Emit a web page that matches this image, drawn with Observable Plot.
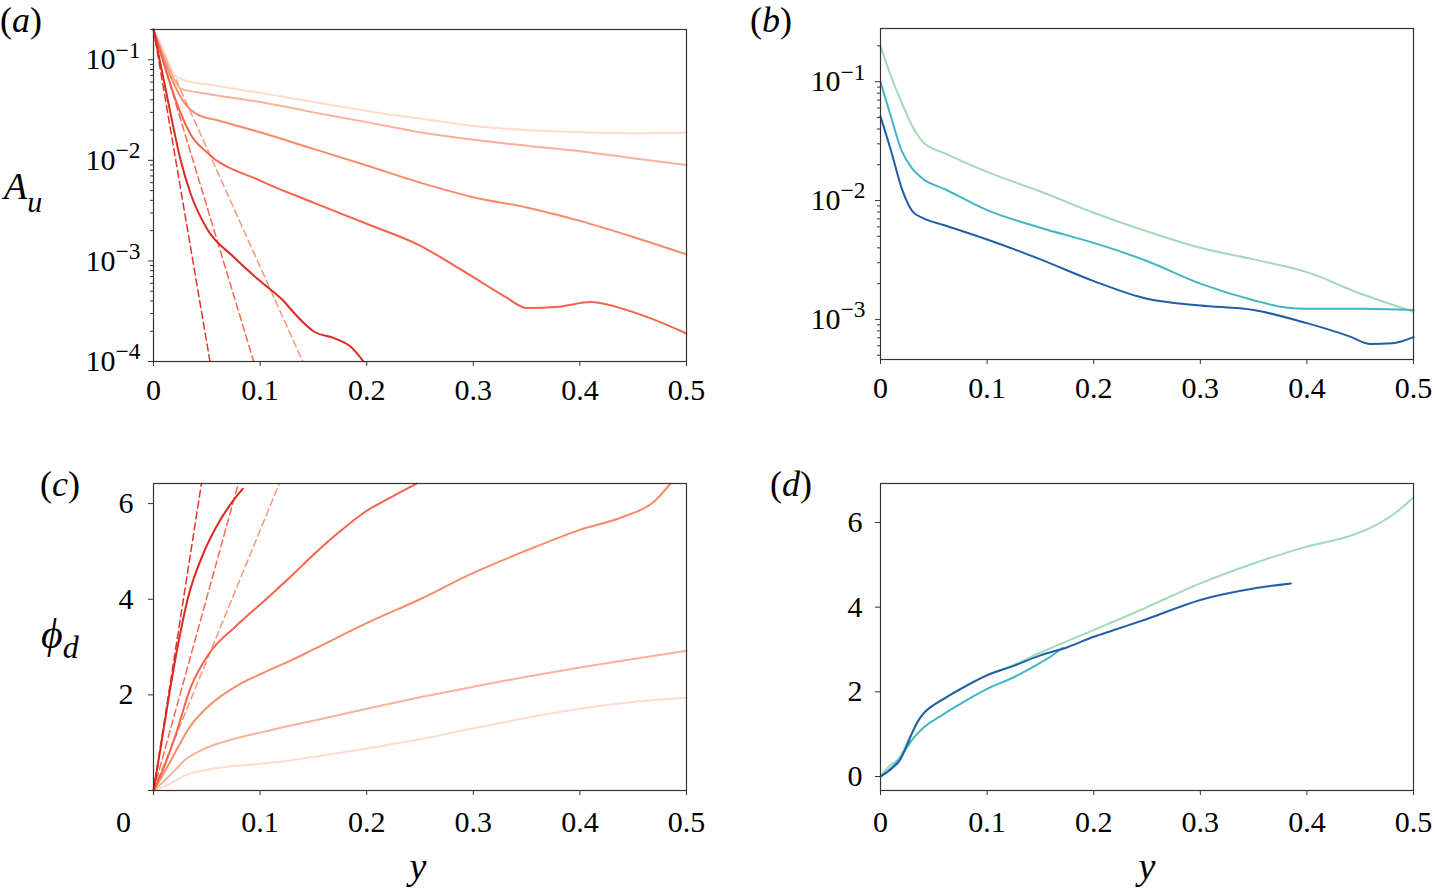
<!DOCTYPE html>
<html>
<head>
<meta charset="utf-8">
<script src="https://cdn.jsdelivr.net/npm/d3@7"></script>
<script src="https://cdn.jsdelivr.net/npm/@observablehq/plot@0.6"></script>
<style>
  body { margin: 0; background: #fff; }
  #fig { position: relative; width: 1436px; height: 895px; font-family: "Liberation Serif", "Times New Roman", serif; }
  #fig > svg { position: absolute; }
</style>
</head>
<body>
<div id="fig"></div>
<script>
// shared ticks
const xTicks = [0, 0.1, 0.2, 0.3, 0.4, 0.5]
const aTicks = [1e-4, 1e-3, 1e-2, 1e-1]
const bTicks = [1e-3, 1e-2, 1e-1]
const phiTicks = [0, 2, 4, 6]

// (a) amplitude, red family, light -> dark
const au1 = [[0,0.2],[0.01,0.12],[0.02,0.07],[0.03,0.062],[0.05,0.057],[0.1,0.047],[0.15,0.038],[0.2,0.031],[0.25,0.026],[0.3,0.022],[0.35,0.020],[0.4,0.019],[0.45,0.0186],[0.5,0.0188]]
const au2 = [[0,0.2],[0.01,0.11],[0.02,0.062],[0.025,0.052],[0.05,0.046],[0.1,0.038],[0.15,0.030],[0.2,0.024],[0.25,0.019],[0.3,0.016],[0.35,0.014],[0.4,0.0123],[0.45,0.0105],[0.5,0.009]]
const au3 = [[0,0.2],[0.01,0.1],[0.02,0.055],[0.03,0.036],[0.04,0.029],[0.06,0.025],[0.1,0.019],[0.15,0.013],[0.2,0.0089],[0.25,0.006],[0.3,0.0043],[0.35,0.0034],[0.4,0.0025],[0.45,0.00173],[0.5,0.00116]]
const au4 = [[0,0.2],[0.01,0.09],[0.02,0.042],[0.035,0.018],[0.05,0.012],[0.1,0.0063],[0.15,0.0038],[0.2,0.00234],[0.25,0.00142],[0.28,0.00093],[0.3,0.00069],[0.33,0.00044],[0.35,0.00034],[0.38,0.00035],[0.41,0.00039],[0.45,0.00031],[0.5,0.00019]]
const au5 = [[0,0.2],[0.01,0.06],[0.015,0.033],[0.025,0.0105],[0.035,0.0046],[0.05,0.0021],[0.075,0.0011],[0.1,0.00063],[0.12,0.00042],[0.135,0.00028],[0.15,0.0002],[0.17,0.00017],[0.185,0.00014],[0.197,0.0001]]
const auDash1 = [[0,0.2],[0.053,0.0001]]
const auDash2 = [[0,0.2],[0.094,0.0001]]
const auDash3 = [[0,0.2],[0.14,0.0001]]

// (b) amplitude, green/teal/blue
const buGreen = [[0,0.2],[0.01,0.11],[0.02,0.066],[0.03,0.042],[0.04,0.031],[0.06,0.025],[0.1,0.0174],[0.15,0.0119],[0.2,0.0079],[0.25,0.0055],[0.3,0.004],[0.35,0.0032],[0.4,0.0025],[0.45,0.00165],[0.5,0.00116]]
const buTeal = [[0,0.1],[0.01,0.05],[0.02,0.026],[0.03,0.0185],[0.04,0.0152],[0.06,0.0125],[0.1,0.0083],[0.15,0.0059],[0.2,0.0044],[0.25,0.0031],[0.3,0.002],[0.35,0.00145],[0.38,0.00126],[0.4,0.00123],[0.45,0.00123],[0.5,0.0012]]
const buBlue = [[0,0.051],[0.01,0.026],[0.02,0.0126],[0.03,0.0081],[0.04,0.0071],[0.06,0.0062],[0.1,0.0047],[0.15,0.0032],[0.2,0.0021],[0.25,0.00149],[0.3,0.00131],[0.35,0.0012],[0.4,0.00093],[0.44,0.00072],[0.46,0.00062],[0.48,0.00063],[0.5,0.00071]]

// (c) phase, red family
const pd1 = [[0,0],[0.01,0.08],[0.02,0.2],[0.029,0.31],[0.054,0.45],[0.1,0.56],[0.129,0.63],[0.15,0.7],[0.2,0.88],[0.25,1.07],[0.3,1.3],[0.35,1.52],[0.4,1.71],[0.45,1.85],[0.5,1.94]]
const pd2 = [[0,0],[0.01,0.2],[0.02,0.42],[0.029,0.63],[0.0445,0.84],[0.076,1.08],[0.1,1.21],[0.129,1.36],[0.15,1.46],[0.2,1.71],[0.25,1.95],[0.3,2.17],[0.35,2.38],[0.4,2.57],[0.45,2.75],[0.5,2.92]]
const pd3 = [[0,0],[0.008,0.3],[0.0163,0.63],[0.035,1.36],[0.054,1.81],[0.079,2.2],[0.104,2.47],[0.129,2.72],[0.15,2.95],[0.2,3.5],[0.25,4.0],[0.3,4.55],[0.35,5.02],[0.4,5.45],[0.44,5.72],[0.47,6.05],[0.485,6.42]]
const pd4 = [[0,0],[0.01,0.5],[0.021,1.18],[0.035,2.16],[0.052,2.86],[0.076,3.41],[0.1056,4.0],[0.129,4.48],[0.15,4.93],[0.175,5.42],[0.2,5.85],[0.22,6.1],[0.247,6.42]]
const pd5 = [[0,0],[0.0075,1.0],[0.0147,2.0],[0.0226,3.0],[0.032,4.0],[0.0476,5.0],[0.0586,5.5],[0.0727,6.0],[0.0837,6.31]]
const pdDash1 = [[0,0],[0.045,6.42]]
const pdDash2 = [[0,0],[0.0796,6.42]]
const pdDash3 = [[0,0],[0.118,6.42]]

// (d) phase, green/teal/blue
const pdGreen = [[0,0],[0.007,0.22],[0.018,0.45],[0.026,0.85],[0.03,1.05],[0.035,1.3],[0.04,1.48],[0.045,1.6],[0.05,1.69],[0.057,1.8],[0.0725,2.04],[0.1,2.4],[0.1256,2.64],[0.144,2.86],[0.18,3.25],[0.219,3.66],[0.25,4.0],[0.3,4.56],[0.35,5.03],[0.4,5.43],[0.44,5.68],[0.46,5.88],[0.48,6.17],[0.5,6.59]]
const pdTeal = [[0,0],[0.01,0.2],[0.019,0.46],[0.029,0.85],[0.041,1.17],[0.057,1.44],[0.0725,1.68],[0.1,2.07],[0.1256,2.35],[0.144,2.6],[0.16,2.84],[0.171,3.04]]
const pdBlue = [[0,0],[0.01,0.18],[0.018,0.38],[0.026,0.81],[0.03,1.05],[0.035,1.3],[0.04,1.48],[0.045,1.6],[0.05,1.69],[0.057,1.8],[0.0725,2.03],[0.1,2.39],[0.1256,2.62],[0.15,2.86],[0.176,3.06],[0.2,3.3],[0.219,3.46],[0.25,3.72],[0.3,4.17],[0.35,4.44],[0.385,4.56]]

const reds = ["#fddcce", "#fbb29a", "#f98b6c", "#f4634a", "#dc2a22"]
const redsDash = ["#e2342a", "#f46a4e", "#fb9676"]
const blues = ["#a1dab4", "#41b6c4", "#225ea8"]

const fig = d3.select('#fig')

// minor ticks for a log axis
const minorLog = (lo, hi) => d3.range(-5, 1).flatMap(e => d3.range(2, 10).map(k => k * 10 ** e)).filter(v => v >= lo && v <= hi)

const solid = (pts, color) => Plot.line(pts, {x: d => d[0], y: d => d[1], stroke: color, strokeWidth: 2, curve: 'monotone-x'})
const dashed = (pts, color) => Plot.line(pts, {x: d => d[0], y: d => d[1], stroke: color, strokeWidth: 1.5, strokeDasharray: '7,4'})

const common = {
  width: 718,
  style: {fontFamily: '"Liberation Serif", "Times New Roman", serif', fontSize: '30px', color: '#000', background: 'transparent', overflow: 'visible'},
  x: {domain: [0, 0.5], label: null}
}

function xAxis(pad, hideZero) {
  return Plot.axisX(xTicks, {tickSize: 5, tickPadding: pad, stroke: '#333',
    tickFormat: d => d === 0 ? (hideZero ? '' : '0') : d.toFixed(1), label: null})
}

function logAxes(domain, major, pad) {
  return [
    Plot.axisY(minorLog(domain[0], domain[1]), {tickSize: 3, stroke: '#333', tickFormat: () => '', label: null}),
    Plot.axisY(major, {tickSize: 5, tickPadding: pad, stroke: '#333', tickFormat: d => '10^' + Math.round(Math.log10(d)), label: null})
  ]
}

// turn "10^-1" into 10 with a raised exponent
function supLabels(svg) {
  d3.select(svg).selectAll('g[aria-label="y-axis tick label"] text').each(function() {
    const t = d3.select(this)
    const s = t.text()
    if (!s.startsWith('10^')) return
    const e = s.slice(3).replace('-', '\u2212')
    t.text('')
    t.append('tspan').text('10')
    t.append('tspan').attr('font-size', '0.78em').attr('dy', '-0.5em').text(e)
  })
  return svg
}

function place(svg, left, top) {
  fig.append(() => svg).style('left', left + 'px').style('top', top + 'px')
}

// (a)
const aDomain = [1e-4, 0.2]
let chartA = Plot.plot({
  ...common, height: 430,
  marginLeft: 153, marginRight: 32, marginTop: 29, marginBottom: 69,
  y: {type: 'log', domain: aDomain, label: null},
  marks: [
    dashed(auDash1, redsDash[0]), dashed(auDash2, redsDash[1]), dashed(auDash3, redsDash[2]),
    solid(au1, reds[0]), solid(au2, reds[1]), solid(au3, reds[2]), solid(au4, reds[3]), solid(au5, reds[4]),
    ...logAxes(aDomain, aTicks, 8),
    xAxis(12, false),
    Plot.frame({stroke: '#333', strokeWidth: 1.2})
  ]
})
place(supLabels(chartA), 0, 0)

// (b)
const bDomain = [4.6e-4, 0.28]
let chartB = Plot.plot({
  ...common, height: 430,
  marginLeft: 162, marginRight: 23, marginTop: 28, marginBottom: 71,
  y: {type: 'log', domain: bDomain, label: null},
  marks: [
    solid(buGreen, blues[0]), solid(buTeal, blues[1]), solid(buBlue, blues[2]),
    ...logAxes(bDomain, bTicks, 10),
    xAxis(12, false),
    Plot.frame({stroke: '#333', strokeWidth: 1.2})
  ]
})
place(supLabels(chartB), 718, 0)

// (c)
let chartC = Plot.plot({
  ...common, height: 445,
  marginLeft: 153, marginRight: 32, marginTop: 33, marginBottom: 105,
  y: {domain: [0, 6.42], label: null},
  marks: [
    dashed(pdDash1, redsDash[0]), dashed(pdDash2, redsDash[1]), dashed(pdDash3, redsDash[2]),
    solid(pd1, reds[0]), solid(pd2, reds[1]), solid(pd3, reds[2]), solid(pd4, reds[3]), solid(pd5, reds[4]),
    Plot.axisY(phiTicks, {tickSize: 5, tickPadding: 15, stroke: '#333', tickFormat: d => d === 0 ? '' : String(d), label: null}),
    xAxis(15, true),
    Plot.text([0], {x: d => d, frameAnchor: 'bottom', dx: -30, dy: 41, text: () => '0', fontSize: 30}),
    Plot.frame({stroke: '#333', strokeWidth: 1.2})
  ]
})
place(chartC, 0, 450)

// (d)
let chartD = Plot.plot({
  ...common, height: 445,
  marginLeft: 162, marginRight: 23, marginTop: 33, marginBottom: 105,
  y: {domain: [-0.33, 6.92], label: null},
  marks: [
    solid(pdGreen, blues[0]), solid(pdTeal, blues[1]), solid(pdBlue, blues[2]),
    Plot.axisY(phiTicks, {tickSize: 5, tickPadding: 13, stroke: '#333', label: null}),
    xAxis(15, false),
    Plot.frame({stroke: '#333', strokeWidth: 1.2})
  ]
})
place(chartD, 718, 450)

// panel letters and axis titles
const ov = fig.append('svg').attr('width', 1436).attr('height', 895)
  .style('left', '0px').style('top', '0px').style('pointer-events', 'none')
  .style('font-family', '"Liberation Serif", "Times New Roman", serif')

function panelLabel(x, y, letter) {
  const t = ov.append('text').attr('x', x).attr('y', y).attr('font-size', 36)
  t.append('tspan').text('(')
  t.append('tspan').attr('font-style', 'italic').text(letter)
  t.append('tspan').text(')')
}
panelLabel(0, 32, 'a')
panelLabel(750, 32, 'b')
panelLabel(40, 496, 'c')
panelLabel(770, 496, 'd')

const au = ov.append('text').attr('x', 4).attr('y', 199).attr('font-size', 38).attr('font-style', 'italic')
au.append('tspan').text('A')
au.append('tspan').attr('font-size', 30).attr('dy', 13).text('u')

const ph = ov.append('text').attr('x', 41).attr('y', 648).attr('font-size', 42).attr('font-style', 'italic')
ph.append('tspan').text('\u03d5')
ph.append('tspan').attr('font-size', 32).attr('dy', 10).text('d')

ov.append('text').attr('x', 418).attr('y', 879).attr('font-size', 38).attr('font-style', 'italic').attr('text-anchor', 'middle').text('y')
ov.append('text').attr('x', 1147).attr('y', 879).attr('font-size', 38).attr('font-style', 'italic').attr('text-anchor', 'middle').text('y')
</script>
</body>
</html>
